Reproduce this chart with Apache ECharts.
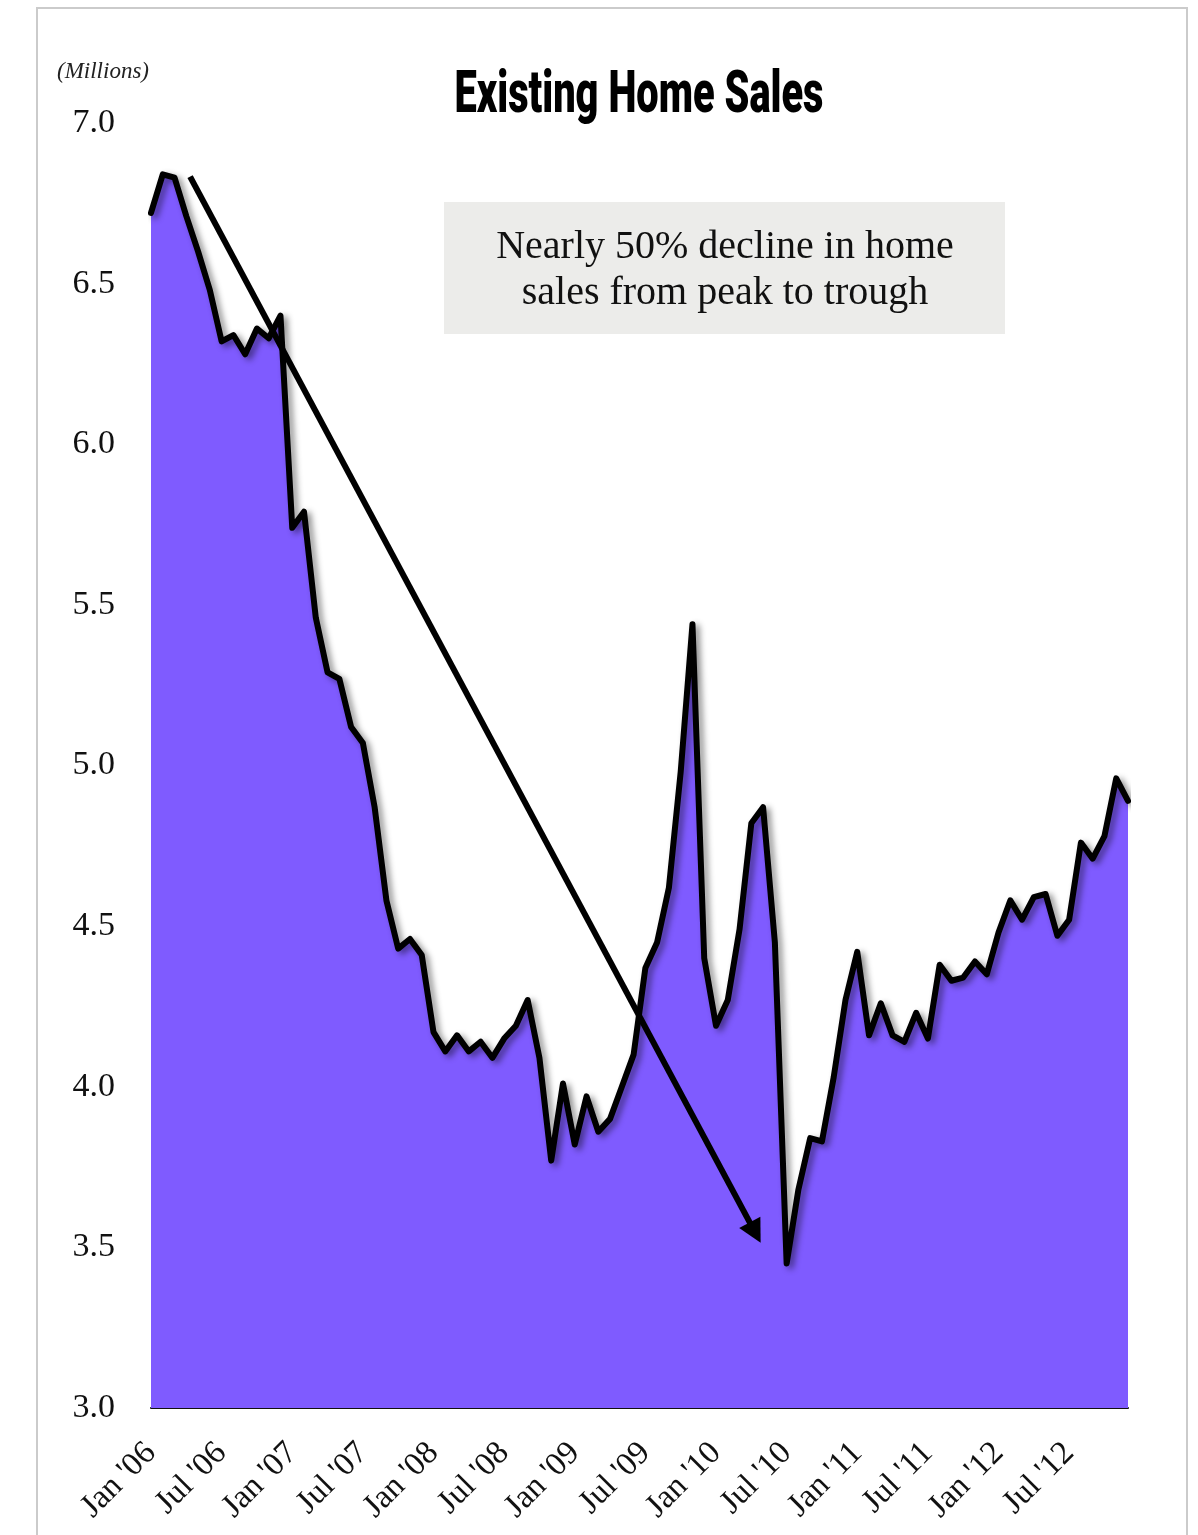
<!DOCTYPE html>
<html>
<head>
<meta charset="utf-8">
<title>Existing Home Sales</title>
<script src="https://cdn.jsdelivr.net/npm/echarts@6/dist/echarts.min.js"></script>
<style>
  html, body { margin: 0; padding: 0; background: #ffffff; }
  #chart { width: 1198px; height: 1535px; }
</style>
</head>
<body>
<div id="chart"></div>
<script>
// Monthly categories, Jan 2006 through Dec 2012
const years = ['06', '07', '08', '09', '10', '11', '12'];
const monthNames = ['Jan', 'Feb', 'Mar', 'Apr', 'May', 'Jun', 'Jul', 'Aug', 'Sep', 'Oct', 'Nov', 'Dec'];
const months = [];
years.forEach(y => monthNames.forEach(m => months.push(m + " '" + y)));

// Existing home sales, seasonally adjusted annual rate (millions)
const sales = [
  6.72, 6.84, 6.83, 6.71, 6.60, 6.48, 6.32, 6.34, 6.28, 6.36, 6.33, 6.40,
  5.74, 5.79, 5.46, 5.29, 5.27, 5.12, 5.07, 4.87, 4.58, 4.43, 4.46, 4.41,
  4.17, 4.11, 4.16, 4.11, 4.14, 4.09, 4.15, 4.19, 4.27, 4.09, 3.77, 4.01,
  3.82, 3.97, 3.86, 3.90, 4.00, 4.10, 4.37, 4.45, 4.62, 4.98, 5.44, 4.40,
  4.19, 4.27, 4.49, 4.82, 4.87, 4.45, 3.45, 3.68, 3.84, 3.83, 4.03, 4.27,
  4.42, 4.16, 4.26, 4.16, 4.14, 4.23, 4.15, 4.38, 4.33, 4.34, 4.39, 4.35,
  4.48, 4.58, 4.52, 4.59, 4.60, 4.47, 4.52, 4.76, 4.71, 4.78, 4.96, 4.89
];

// Decline arrow, in (month index, millions)
const arrowFrom = [3.32, 6.833];
const arrowTo = [51.33, 3.546];

const titleText = 'Existing Home Sales';
const unitText = '(Millions)';
const noteText = 'Nearly 50% decline in home\nsales from peak to trough';

const SERIF = "'Liberation Serif', 'Times New Roman', serif";
const TITLE_FONT = "900 60px Roboto, 'Liberation Sans', sans-serif";
const TITLE_WIDTH = 369;

// squeeze the title into a condensed display face
function condensedScale(text, font, width) {
  const ctx = document.createElement('canvas').getContext('2d');
  ctx.font = font;
  return width / ctx.measureText(text).width;
}

const chart = echarts.init(document.getElementById('chart'), null, { renderer: 'canvas' });

chart.setOption({
  animation: false,
  backgroundColor: '#ffffff',
  grid: { left: 151, right: 70, top: 123, bottom: 127, containLabel: false },
  xAxis: [
    {
      type: 'category',
      data: months,
      boundaryGap: false,
      axisLine: { show: true, lineStyle: { color: '#111111', width: 2 } },
      axisTick: { show: false },
      splitLine: { show: false },
      axisLabel: {
        // a label every six months: Jan and Jul
        interval: (index) => index % 6 === 0,
        rotate: 45,
        margin: 40,
        color: '#111111',
        fontFamily: SERIF,
        fontSize: 33
      }
    },
    {
      type: 'value',
      min: 0,
      max: months.length - 1,
      show: false
    }
  ],
  yAxis: {
    type: 'value',
    min: 3,
    max: 7,
    interval: 0.5,
    axisLine: { show: false },
    axisTick: { show: false },
    splitLine: { show: false },
    axisLabel: {
      margin: 36,
      color: '#111111',
      fontFamily: SERIF,
      fontSize: 34,
      formatter: v => v.toFixed(1)
    }
  },
  series: [
    {
      name: 'Existing home sales',
      type: 'line',
      data: sales,
      showSymbol: false,
      symbol: 'none',
      z: 2,
      lineStyle: {
        color: '#000000',
        width: 6,
        cap: 'round',
        join: 'round',
        shadowColor: 'rgba(0,0,0,0.45)',
        shadowBlur: 6,
        shadowOffsetX: 4,
        shadowOffsetY: 3
      },
      areaStyle: { color: '#7f5bff', opacity: 1, origin: 'start' }
    },
    {
      name: 'Decline',
      type: 'line',
      xAxisIndex: 1,
      data: [arrowFrom, arrowTo],
      showSymbol: false,
      symbol: 'none',
      silent: true,
      z: 3,
      lineStyle: { opacity: 0 },
      markLine: {
        silent: true,
        animation: false,
        symbol: ['none', 'triangle'],
        symbolSize: [24, 23],
        label: { show: false },
        emphasis: { disabled: true },
        lineStyle: { color: '#000000', width: 6, type: 'solid', cap: 'butt' },
        itemStyle: { color: '#000000' },
        data: [[{ coord: arrowFrom }, { coord: arrowTo }]]
      }
    }
  ],
  graphic: [
    {
      type: 'rect',
      silent: true,
      z: 0,
      shape: { x: 37, y: 8, width: 1150, height: 1560 },
      style: { fill: 'none', stroke: '#cbcbcb', lineWidth: 2 }
    },
    {
      type: 'text',
      silent: true,
      x: 57,
      y: 72,
      style: {
        text: unitText,
        fill: '#222222',
        font: "italic 23px " + SERIF,
        textAlign: 'left',
        textVerticalAlign: 'middle'
      }
    },
    {
      type: 'text',
      silent: true,
      x: 454.5,
      y: 97,
      scaleX: condensedScale(titleText, TITLE_FONT, TITLE_WIDTH),
      style: {
        text: titleText,
        fill: '#000000',
        font: TITLE_FONT,
        textAlign: 'left',
        textVerticalAlign: 'middle'
      }
    },
    {
      type: 'rect',
      silent: true,
      z: 5,
      shape: { x: 444, y: 202, width: 561, height: 132 },
      style: { fill: '#ececea' }
    },
    {
      type: 'text',
      silent: true,
      z: 6,
      x: 725,
      y: 270,
      style: {
        text: noteText,
        fill: '#111111',
        font: "40px " + SERIF,
        lineHeight: 46,
        textAlign: 'center',
        textVerticalAlign: 'middle'
      }
    }
  ]
});
</script>
</body>
</html>
